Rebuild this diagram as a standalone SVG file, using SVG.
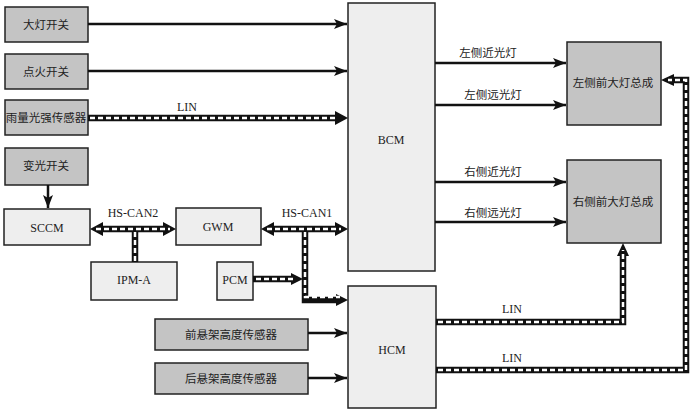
<svg xmlns="http://www.w3.org/2000/svg" width="696" height="411" viewBox="0 0 696 411">
<style>
.g{fill:#c4c4c4;stroke:#222;stroke-width:1.5}
.l{fill:#eeeeee;stroke:#222;stroke-width:1.5}
.zh{font-family:"Noto Sans CJK SC","Noto Sans",sans-serif;font-size:11.5px;fill:#222;text-anchor:middle}
.en{font-family:"Liberation Serif",serif;font-size:12px;fill:#222;text-anchor:middle}
.w{fill:none;stroke:#111;stroke-width:2.5}
.bus{fill:none;stroke:#111;stroke-width:6.5}
.dash{fill:none;stroke:#fff;stroke-width:2.5;stroke-dasharray:5 3}
</style>
<defs>
<marker id="a" markerUnits="userSpaceOnUse" markerWidth="14" markerHeight="12" refX="13" refY="6" orient="auto"><path d="M0,1 L13,6 L0,11 L3,6 Z" fill="#111"/></marker>
</defs>
<g id="n-dadeng"><rect class="g" x="5" y="7" width="83" height="35"/><text class="zh" x="46" y="29">大灯开关</text></g>
<g id="n-dianhuo"><rect class="g" x="5" y="54" width="83" height="35"/><text class="zh" x="46" y="76">点火开关</text></g>
<g id="n-yuliang"><rect class="g" x="5" y="100" width="83" height="35"/><text class="zh" x="46" y="122">雨量光强传感器</text></g>
<g id="n-bianguang"><rect class="g" x="5" y="148" width="83" height="37"/><text class="zh" x="46" y="170">变光开关</text></g>
<g id="n-sccm"><rect class="l" x="4" y="209" width="86" height="36"/><text class="en" x="47" y="232">SCCM</text></g>
<g id="n-gwm"><rect class="l" x="176" y="208" width="85" height="37"/><text class="en" x="218" y="231">GWM</text></g>
<g id="n-ipma"><rect class="l" x="91" y="262" width="86" height="38"/><text class="en" x="134" y="284">IPM-A</text></g>
<g id="n-pcm"><rect class="l" x="217" y="262" width="36" height="38"/><text class="en" x="235" y="284">PCM</text></g>
<g id="n-bcm"><rect class="l" x="348" y="3" width="87" height="268"/><text class="en" x="391" y="144">BCM</text></g>
<g id="n-hcm"><rect class="l" x="348" y="286" width="88" height="122"/><text class="en" x="392" y="354">HCM</text></g>
<g id="n-qian"><rect class="g" x="155" y="319" width="153" height="31"/><text class="zh" x="231" y="339">前悬架高度传感器</text></g>
<g id="n-hou"><rect class="g" x="155" y="363" width="153" height="31"/><text class="zh" x="231" y="383">后悬架高度传感器</text></g>
<g id="n-zuo"><rect class="g" x="567" y="42" width="94" height="83"/><text class="zh" x="613" y="87">左侧前大灯总成</text></g>
<g id="n-you"><rect class="g" x="567" y="160" width="94" height="83"/><text class="zh" x="613" y="206">右侧前大灯总成</text></g>
<g id="connectors">
<path class="w" d="M88 24 H347" marker-end="url(#a)"/>
<path class="w" d="M88 71 H347" marker-end="url(#a)"/>
<path class="w" d="M48 185 V208" marker-end="url(#a)"/>
<path class="w" d="M435 63 H566" marker-end="url(#a)"/>
<path class="w" d="M435 105 H566" marker-end="url(#a)"/>
<path class="w" d="M435 182 H566" marker-end="url(#a)"/>
<path class="w" d="M435 222 H566" marker-end="url(#a)"/>
<path class="w" d="M308 333 H347" marker-end="url(#a)"/>
<path class="w" d="M308 378 H347" marker-end="url(#a)"/>
<path class="bus" d="M88 118 H335"/><path d="M335 111 L348 118 L335 125 Z" fill="#111"/><path class="dash" d="M90 118 H338"/>
<path class="bus" d="M103 229 H163"/><path d="M103 222 L90 229 L103 236 Z M163 222 L176 229 L163 236 Z" fill="#111"/>
<path class="bus" d="M135 229 V262"/>
<path class="dash" d="M96 229 H170 M135 232 V262"/>
<path class="bus" d="M274 229 H335"/><path d="M274 222 L261 229 L274 236 Z M335 222 L348 229 L335 236 Z" fill="#111"/>
<path class="bus" d="M305 229 V300 H336"/><path d="M336 294 L348 300 L336 306 Z" fill="#111"/>
<path class="dash" d="M267 229 H341 M305 232 V297 H340"/>
<path class="bus" d="M253 279 H292"/><path d="M291 273 L303 279 L291 285 Z" fill="#111"/><path class="dash" d="M256 279 H295"/>
<path class="bus" d="M436 322 H623 V255"/><path d="M617 256 L623 243 L629 256 Z" fill="#111"/>
<path class="dash" d="M438 322 H623 V250"/>
<path class="bus" d="M436 370 H686 V80 H673"/><path d="M674 74 L661 80 L674 86 Z" fill="#111"/>
<path class="dash" d="M438 370 H686 V80 H668"/>
</g>
<text class="en" x="187" y="111">LIN</text>
<text class="en" x="133" y="217">HS-CAN2</text>
<text class="en" x="307" y="217">HS-CAN1</text>
<text class="en" x="512" y="313">LIN</text>
<text class="en" x="512" y="362">LIN</text>
<text class="zh" x="488" y="57">左侧近光灯</text>
<text class="zh" x="493" y="99">左侧远光灯</text>
<text class="zh" x="493" y="176">右侧近光灯</text>
<text class="zh" x="493" y="217">右侧远光灯</text>
</svg>
